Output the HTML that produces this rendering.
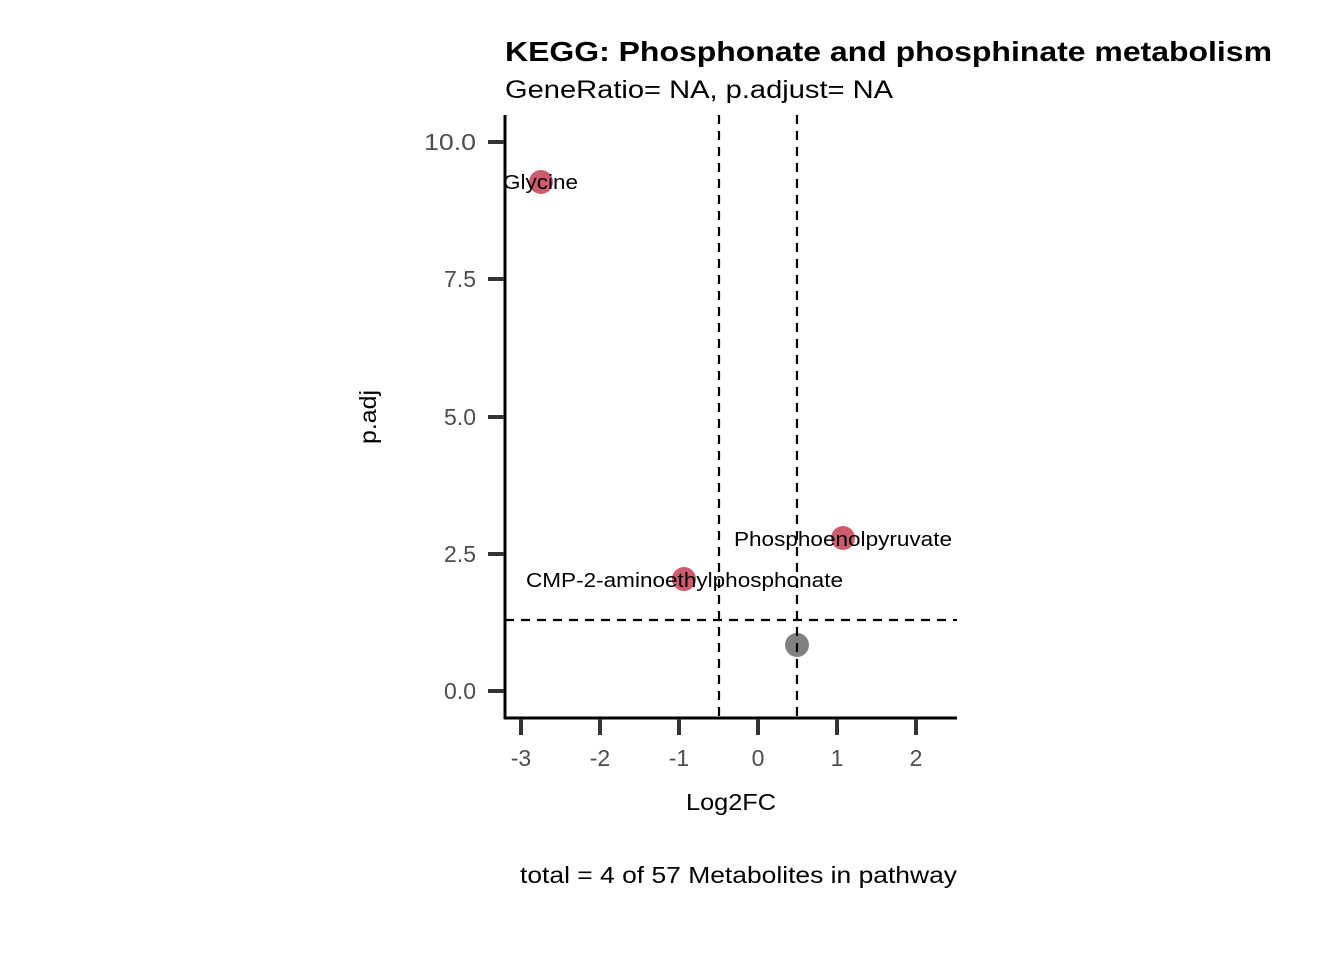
<!DOCTYPE html>
<html><head><style>body{margin:0;background:#fff}</style></head><body>
<svg width="1344" height="960" xmlns="http://www.w3.org/2000/svg" font-family="Liberation Sans, sans-serif">
<rect width="1344" height="960" fill="#fff"/>
<text x="505" y="61" font-size="28" font-weight="bold" textLength="767" lengthAdjust="spacingAndGlyphs">KEGG: Phosphonate and phosphinate metabolism</text>
<text x="505" y="98" font-size="25" textLength="388" lengthAdjust="spacingAndGlyphs">GeneRatio= NA, p.adjust= NA</text>
<circle cx="541" cy="182" r="12" fill="#cd5c6e"/>
<circle cx="684" cy="579" r="12" fill="#cd5c6e"/>
<circle cx="843" cy="538" r="12" fill="#cd5c6e"/>
<circle cx="797" cy="645" r="12" fill="#808080"/>
<g stroke="#000" stroke-width="2.2" stroke-dasharray="9,7" fill="none">
<line x1="719" y1="115" x2="719" y2="718"/>
<line x1="797" y1="115" x2="797" y2="718"/>
<line x1="505" y1="620" x2="957" y2="620"/>
</g>
<g font-size="20">
<text x="503" y="189" textLength="75" lengthAdjust="spacingAndGlyphs">Glycine</text>
<text x="526" y="587" textLength="317" lengthAdjust="spacingAndGlyphs">CMP-2-aminoethylphosphonate</text>
<text x="734" y="546" textLength="218" lengthAdjust="spacingAndGlyphs">Phosphoenolpyruvate</text>
</g>
<g stroke="#000" stroke-width="3" fill="none">
<line x1="505" y1="115" x2="505" y2="719"/>
<line x1="504" y1="718" x2="957" y2="718"/>
</g>
<g stroke="#333" stroke-width="4">
<line x1="488" y1="142" x2="504" y2="142"/>
<line x1="488" y1="279" x2="504" y2="279"/>
<line x1="488" y1="417" x2="504" y2="417"/>
<line x1="488" y1="554" x2="504" y2="554"/>
<line x1="488" y1="691" x2="504" y2="691"/>
<line x1="521" y1="719" x2="521" y2="735"/>
<line x1="600" y1="719" x2="600" y2="735"/>
<line x1="679" y1="719" x2="679" y2="735"/>
<line x1="758" y1="719" x2="758" y2="735"/>
<line x1="837" y1="719" x2="837" y2="735"/>
<line x1="916" y1="719" x2="916" y2="735"/>
</g>
<g font-size="23" fill="#4d4d4d" text-anchor="end">
<text x="476" y="150" textLength="52" lengthAdjust="spacingAndGlyphs">10.0</text>
<text x="476" y="287">7.5</text>
<text x="476" y="425">5.0</text>
<text x="476" y="562">2.5</text>
<text x="476" y="699">0.0</text>
</g>
<g font-size="23" fill="#4d4d4d" text-anchor="middle">
<text x="521" y="766">-3</text>
<text x="600" y="766">-2</text>
<text x="679" y="766">-1</text>
<text x="758" y="766">0</text>
<text x="837" y="766">1</text>
<text x="916" y="766">2</text>
</g>
<text x="686" y="810" font-size="23" textLength="90" lengthAdjust="spacingAndGlyphs">Log2FC</text>
<text transform="translate(376,444) rotate(-90)" font-size="23" textLength="54" lengthAdjust="spacingAndGlyphs">p.adj</text>
<text x="520" y="883" font-size="23" textLength="437" lengthAdjust="spacingAndGlyphs">total = 4 of 57 Metabolites in pathway</text>
</svg>
</body></html>
